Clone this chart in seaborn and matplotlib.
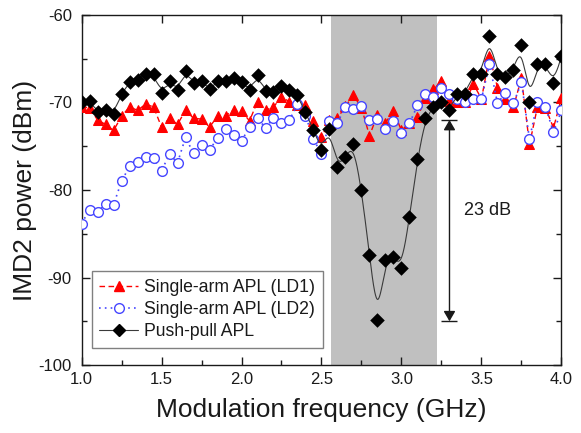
import numpy as np
import pandas as pd
import matplotlib
matplotlib.use("Agg")
import matplotlib.pyplot as plt
from matplotlib.lines import Line2D
from matplotlib.ticker import MultipleLocator
import seaborn as sns

# ---------------- data ----------------
freq = [1.00, 1.05, 1.10, 1.15, 1.20, 1.25, 1.30, 1.35, 1.40, 1.45,
        1.50, 1.55, 1.60, 1.65, 1.70, 1.75, 1.80, 1.85, 1.90, 1.95,
        2.00, 2.05, 2.10, 2.15, 2.20, 2.25, 2.30, 2.35, 2.40, 2.45,
        2.50, 2.55, 2.60, 2.65, 2.70, 2.75, 2.80, 2.85, 2.90, 2.95,
        3.00, 3.05, 3.10, 3.15, 3.20, 3.25, 3.30, 3.35, 3.40, 3.45,
        3.50, 3.55, 3.60, 3.65, 3.70, 3.75, 3.80, 3.85, 3.90, 3.95,
        4.00]

ld1 = [-70.5, -70.6, -72.0, -72.5, -73.2, -71.6, -70.5, -70.9, -70.2, -70.5,
       -72.8, -71.8, -72.5, -70.9, -71.8, -71.9, -72.8, -71.6, -71.5, -70.9,
       -71.0, -72.1, -69.9, -70.9, -70.5, -69.4, -69.9, -70.3, -70.3, -72.1,
       -74.0, -72.0, -71.8, -70.4, -69.2, -70.6, -73.8, -71.4, -72.3, -71.0,
       -73.2, -72.3, -71.7, -69.5, -68.5, -67.6, -69.8, -69.9, -69.9, -67.9,
       -69.6, -64.7, -68.3, -69.6, -70.5, -67.2, -74.8, -70.5, -70.6, -72.9,
       -69.5]

ld2 = [-83.85, -82.25, -82.5, -81.6, -81.7, -79.0, -77.3, -76.8, -76.2, -76.4,
       -77.8, -75.9, -76.9, -74.0, -75.8, -74.9, -75.4, -74.1, -73.0, -73.7,
       -74.4, -72.8, -71.8, -72.9, -71.8, -72.4, -72.0, -70.2, -71.5, -74.2,
       -75.9, -72.1, -72.3, -70.5, -70.8, -70.4, -72.0, -71.9, -73.0, -72.1,
       -73.5, -72.4, -70.3, -69.0, -69.4, -68.3, -69.0, -69.6, -70.0, -69.6,
       -69.6, -65.6, -70.1, -68.9, -70.1, -67.7, -74.2, -69.9, -70.5, -73.4,
       -70.9]

pushpull = [-70.0, -69.8, -71.1, -70.9, -71.3, -69.0, -67.7, -67.4, -66.7, -66.8,
            -68.9, -67.6, -68.6, -66.4, -67.8, -67.6, -68.5, -67.6, -67.6, -67.2,
            -67.7, -68.6, -66.9, -68.7, -68.8, -68.1, -68.6, -69.2, -71.1, -73.2,
            -75.4, -73.0, -77.4, -76.2, -74.8, -80.0, -87.4, -94.9, -88.0, -87.6,
            -88.9, -83.1, -76.5, -71.8, -70.5, -69.9, -70.9, -69.0, -69.0, -66.7,
            -66.7, -62.4, -66.8, -67.1, -66.3, -63.4, -69.9, -65.6, -65.6, -67.8,
            -64.7]

labels = ["Single-arm APL (LD1)", "Single-arm APL (LD2)", "Push-pull APL"]
band = [2.56, 3.22]          # shaded frequency band (GHz)
span_db = [-72.0, -95.0]     # 23 dB annotation range

df = pd.DataFrame({"freq": freq, "ld1": ld1, "ld2": ld2, "pp": pushpull})


def bspline(xs, ys, per_seg=20):
    """Uniform cubic B-spline with data as control points (Origin-style)."""
    P = np.column_stack([xs, ys]).astype(float)
    P = np.vstack([2 * P[0] - P[1], P, 2 * P[-1] - P[-2]])
    t = np.linspace(0, 1, per_seg, endpoint=False)
    b0 = (1 - t) ** 3 / 6
    b1 = (3 * t ** 3 - 6 * t ** 2 + 4) / 6
    b2 = (-3 * t ** 3 + 3 * t ** 2 + 3 * t + 1) / 6
    b3 = t ** 3 / 6
    out = []
    for i in range(1, len(P) - 2):
        seg = (np.outer(b0, P[i - 1]) + np.outer(b1, P[i]) +
               np.outer(b2, P[i + 1]) + np.outer(b3, P[i + 2]))
        out.append(seg)
    i = len(P) - 3
    out.append(((P[i] + 4 * P[i + 1] + P[i + 2]) / 6)[None, :])
    out = np.vstack(out)
    return out[:, 0], out[:, 1]


# ---------------- style ----------------
sns.set_theme(style="ticks")
plt.rcParams["font.family"] = ["Liberation Sans", "DejaVu Sans"]
plt.rcParams["axes.unicode_minus"] = False
plt.rcParams["text.color"] = "k"
plt.rcParams["axes.labelcolor"] = "k"

RED = "#ff0000"
BLUE = "#4646ff"
BLACK = "#000000"

fig = plt.figure(figsize=(5.81, 4.33), dpi=100)
ax = fig.add_axes([0.1403, 0.1570, 0.8261, 0.8084])

ax.axvspan(band[0], band[1], color="#c0c0c0", lw=0, zorder=0)

sns.lineplot(data=df, x="freq", y="ld1", ax=ax, color=RED, lw=1.0,
             linestyle=(0, (4, 2.5)), marker="^", markersize=7.5,
             markeredgecolor=RED, markerfacecolor=RED, zorder=3)
sns.lineplot(data=df, x="freq", y="ld2", ax=ax, color=BLUE, lw=1.2,
             linestyle=(0, (1, 2.5)), marker="o", markersize=7.0,
             markeredgecolor=BLUE, markerfacecolor="white",
             markeredgewidth=1.0, zorder=4)

sx, sy = bspline(df["freq"].values, df["pp"].values)
sns.lineplot(x=sx, y=sy, ax=ax, color="#3a3a3a", lw=0.8, sort=False,
             estimator=None, zorder=5)
sns.scatterplot(data=df, x="freq", y="pp", ax=ax, color=BLACK, marker="D",
                s=55, edgecolor=BLACK, linewidth=0, zorder=6)

# 23 dB annotation
xa = 3.30
ax.annotate("", xy=(xa, span_db[0]), xytext=(xa, span_db[1]),
            arrowprops=dict(arrowstyle="<|-|>,head_length=0.6,head_width=0.35",
                            mutation_scale=10, color="k", lw=1.0,
                            shrinkA=0, shrinkB=0), zorder=7)
ax.hlines(span_db, xa - 0.05, xa + 0.05, color="k", lw=1.0, zorder=7)
ax.text(3.39, -82.3, "23 dB", fontsize=13, ha="left", va="center", color="k")

# axes
ax.set_xlim(1.0, 4.0)
ax.set_ylim(-100, -60)
ax.xaxis.set_major_locator(MultipleLocator(0.5))
ax.xaxis.set_minor_locator(MultipleLocator(0.25))
ax.yaxis.set_major_locator(MultipleLocator(10))
ax.yaxis.set_minor_locator(MultipleLocator(5))
ax.set_xticks([1.0, 1.5, 2.0, 2.5, 3.0, 3.5, 4.0])
ax.set_xticklabels(["1.0", "1.5", "2.0", "2.5", "3.0", "3.5", "4.0"])
ax.tick_params(which="major", direction="in", length=6, width=1.0,
               top=True, right=True, labelsize=12, colors="k", pad=5)
ax.tick_params(axis="y", which="major", pad=7)
ax.tick_params(which="minor", direction="in", length=3.5, width=1.0,
               top=False, right=True, bottom=True, left=True, colors="k")
for s in ax.spines.values():
    s.set_visible(True)
    s.set_color("k")
    s.set_linewidth(1.0)

ax.set_xlabel("Modulation frequency (GHz)", fontsize=19, labelpad=8, color="k")
ax.set_ylabel("IMD2 power (dBm)", fontsize=19, labelpad=1, color="k")

handles = [
    Line2D([], [], color=RED, lw=1.0, linestyle=(0, (4, 2.5)), marker="^",
           markersize=7.5, markerfacecolor=RED, markeredgecolor=RED),
    Line2D([], [], color=BLUE, lw=1.2, linestyle=(0, (1, 2.5)), marker="o",
           markersize=7.0, markerfacecolor="white", markeredgecolor=BLUE),
    Line2D([], [], color="#3a3a3a", lw=0.8, marker="D", markersize=6.5,
           markerfacecolor=BLACK, markeredgecolor=BLACK),
]
leg = ax.legend(handles, labels, loc="lower left",
                bbox_to_anchor=(0.022, 0.049), borderaxespad=0,
                fontsize=12.7, frameon=True, fancybox=False, shadow=False,
                handlelength=2.2, handletextpad=0.35, labelspacing=0.3,
                borderpad=0.42, numpoints=1)
for t in leg.get_texts():
    t.set_color("k")
leg.get_frame().set_edgecolor("#808080")
leg.get_frame().set_linewidth(1.0)
leg.get_frame().set_alpha(1)
leg.set_zorder(10)

fig.savefig("out.png", dpi=100)
